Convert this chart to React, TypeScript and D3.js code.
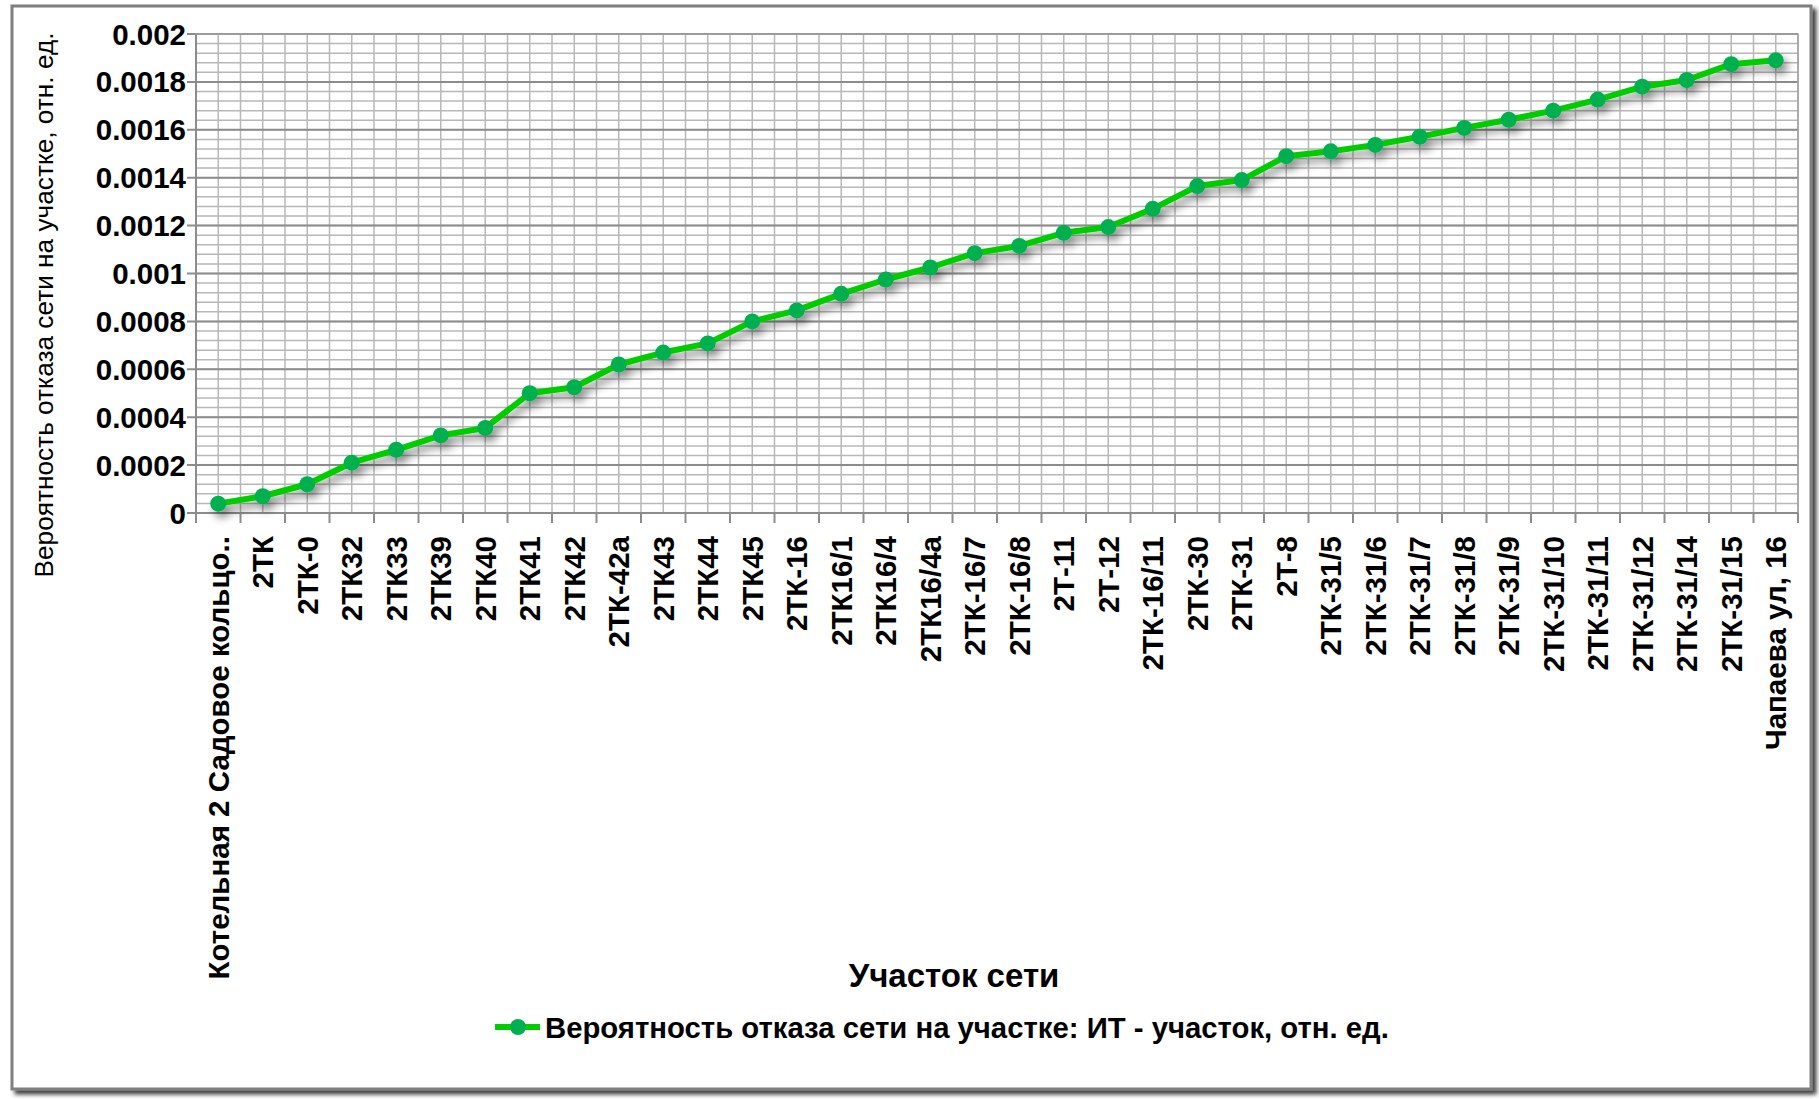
import React from "react";
import * as d3 from "d3";

const categories: string[] = [
  "Котельная 2 Садовое кольцо..", "2ТК", "2ТК-0", "2ТК32", "2ТК33", "2ТК39", "2ТК40", "2ТК41", "2ТК42",
  "2ТК-42а", "2ТК43", "2ТК44", "2ТК45", "2ТК-16", "2ТК16/1", "2ТК16/4", "2ТК16/4а", "2ТК-16/7",
  "2ТК-16/8", "2Т-11", "2Т-12", "2ТК-16/11", "2ТК-30", "2ТК-31", "2Т-8", "2ТК-31/5", "2ТК-31/6",
  "2ТК-31/7", "2ТК-31/8", "2ТК-31/9", "2ТК-31/10", "2ТК-31/11", "2ТК-31/12", "2ТК-31/14", "2ТК-31/15",
  "Чапаева ул, 16",
];

const values: number[] = [
  0.000039, 0.00007, 0.00012, 0.00021, 0.000264, 0.000324, 0.000355, 0.0005, 0.000525,
  0.00062, 0.00067, 0.000708, 0.0008, 0.000846, 0.000915, 0.000975, 0.001025, 0.001085,
  0.001115, 0.00117, 0.001194, 0.00127, 0.001365, 0.00139, 0.00149, 0.00151, 0.001537,
  0.001571, 0.001608, 0.001642, 0.00168, 0.001726, 0.00178, 0.001808, 0.001874, 0.00189,
];

const yTicks: number[] = [0, 0.0002, 0.0004, 0.0006, 0.0008, 0.001, 0.0012, 0.0014, 0.0016, 0.0018, 0.002];
const yTickLabels: string[] = ["0", "0.0002", "0.0004", "0.0006", "0.0008", "0.001", "0.0012", "0.0014", "0.0016", "0.0018", "0.002"];

const yTitle = "Вероятность отказа сети на участке, отн. ед.";
const xTitle = "Участок сети";
const legendLabel = "Вероятность отказа сети на участке: ИТ - участок, отн. ед.";

const W = 1819;
const H = 1099;
const plot = { left: 196, right: 1798, top: 34, bottom: 513 };
const FONT = "'Liberation Sans', Arial, sans-serif";

export default function App() {
  const x = d3.scaleBand<string>().domain(categories).range([plot.left, plot.right]).padding(0);
  const y = d3.scaleLinear().domain([0, 0.002]).range([plot.bottom, plot.top]);
  const bw = x.bandwidth();
  const cx = (c: string) => (x(c) as number) + bw / 2;

  const minorY = d3.range(0, 51).map((i) => i * 0.00004);
  const vLines: number[] = [];
  categories.forEach((c) => {
    vLines.push(x(c) as number);
    vLines.push(cx(c));
  });
  vLines.push(plot.right);

  const line = d3
    .line<number>()
    .x((_, i) => cx(categories[i]))
    .y((v) => y(v));

  const lineColor = "#00cc00";
  const markerColor = "#00b050";

  return (
    <svg width={W} height={H} style={{ position: "absolute", left: 0, top: 0 }} xmlns="http://www.w3.org/2000/svg">
      <defs>
        <filter id="shadow" x="-10%" y="-10%" width="130%" height="140%">
          <feDropShadow dx="4" dy="6" stdDeviation="4" floodColor="#000" floodOpacity="0.45" />
        </filter>
        <filter id="frameShadow" x="-2%" y="-2%" width="104%" height="104%">
          <feDropShadow dx="4" dy="4" stdDeviation="2" floodColor="#000" floodOpacity="0.75" />
        </filter>
      </defs>
      <rect x={0} y={0} width={W} height={H} fill="#fff" />
      <rect x={12} y={6} width={1799} height={1083} fill="#fff" stroke="#7f7f7f" strokeWidth={3} filter="url(#frameShadow)" />

      {/* grid */}
      <g>
        {minorY.map((v, i) => (
          <line key={"my" + i} x1={plot.left} x2={plot.right} y1={y(v)} y2={y(v)} stroke="#b8b8b8" strokeWidth={1.5} />
        ))}
        {vLines.map((vx, i) => (
          <line key={"vx" + i} x1={vx} x2={vx} y1={plot.top} y2={plot.bottom} stroke="#b8b8b8" strokeWidth={1.5} />
        ))}
        {yTicks.map((v, i) => (
          <line key={"My" + i} x1={plot.left - 9} x2={plot.right} y1={y(v)} y2={y(v)} stroke="#8c8c8c" strokeWidth={2} />
        ))}
        <rect x={plot.left} y={plot.top} width={plot.right - plot.left} height={plot.bottom - plot.top} fill="none" stroke="#a0a0a0" strokeWidth={1.5} />
        <line x1={plot.left} x2={plot.left} y1={plot.top} y2={plot.bottom} stroke="#8c8c8c" strokeWidth={2} />
        <line x1={plot.left} x2={plot.right} y1={plot.bottom} y2={plot.bottom} stroke="#8c8c8c" strokeWidth={2} />
        {categories.map((c, i) => (
          <line key={"xt" + i} x1={x(c) as number} x2={x(c) as number} y1={plot.bottom} y2={plot.bottom + 10} stroke="#8c8c8c" strokeWidth={2} />
        ))}
        <line x1={plot.right} x2={plot.right} y1={plot.bottom} y2={plot.bottom + 10} stroke="#8c8c8c" strokeWidth={2} />
      </g>

      {/* y tick labels */}
      {yTicks.map((v, i) => (
        <text key={"yl" + i} x={186} y={y(v)} textAnchor="end" dominantBaseline="central" fontFamily={FONT} fontWeight="bold" fontSize={29.5} fill="#000">
          {yTickLabels[i]}
        </text>
      ))}

      {/* x tick labels */}
      {categories.map((c, i) => (
        <text
          key={"xl" + i}
          transform={`translate(${cx(c)},${plot.bottom + 23}) rotate(-90)`}
          textAnchor="end"
          dominantBaseline="central"
          fontFamily={FONT}
          fontWeight="bold"
          fontSize={29.5}
          fill="#000"
        >
          {c}
        </text>
      ))}

      {/* series */}
      <g filter="url(#shadow)">
        <path d={line(values) || ""} fill="none" stroke={lineColor} strokeWidth={6} strokeLinejoin="round" />
        {values.map((v, i) => (
          <circle key={"pt" + i} cx={cx(categories[i])} cy={y(v)} r={8} fill={markerColor} />
        ))}
      </g>

      {/* axis titles */}
      <text
        transform={`translate(44,305) rotate(-90)`}
        textAnchor="middle"
        dominantBaseline="central"
        fontFamily={FONT}
        fontSize={26}
        textLength={545}
        lengthAdjust="spacingAndGlyphs"
        fill="#000"
      >
        {yTitle}
      </text>
      <text x={954} y={975} textAnchor="middle" dominantBaseline="central" fontFamily={FONT} fontWeight="bold" fontSize={33} fill="#000">
        {xTitle}
      </text>

      {/* legend */}
      <g>
        <line x1={495} x2={540} y1={1027} y2={1027} stroke={lineColor} strokeWidth={6} />
        <circle cx={518} cy={1027} r={8} fill={markerColor} />
        <text x={545} y={1027} dominantBaseline="central" fontFamily={FONT} fontWeight="bold" fontSize={29.3} fill="#000">
          {legendLabel}
        </text>
      </g>
    </svg>
  );
}
